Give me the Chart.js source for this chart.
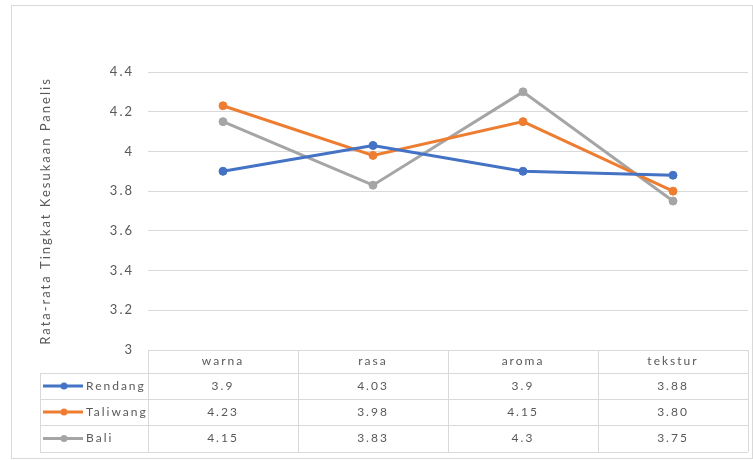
<!DOCTYPE html>
<html>
<head>
<meta charset="utf-8">
<script src="https://cdn.jsdelivr.net/npm/chart.js@4/dist/chart.umd.min.js"></script>
<style>
  html, body { margin: 0; padding: 0; background: #fff; }
  #wrap { width: 753px; height: 460px; }
</style>
</head>
<body>
<div id="wrap"><canvas id="myChart" width="753" height="460"></canvas></div>
<script>
// data (strings as printed in the data table)
const categories = ['warna', 'rasa', 'aroma', 'tekstur'];
const seriesNames = ['Rendang', 'Taliwang', 'Bali'];
const rendang = ['3.9', '4.03', '3.9', '3.88'];
const taliwang = ['4.23', '3.98', '4.15', '3.80'];
const bali = ['4.15', '3.83', '4.3', '3.75'];
const yTicks = [3, 3.2, 3.4, 3.6, 3.8, 4, 4.2, 4.4];
const yTitle = 'Rata-rata Tingkat Kesukaan Panelis';

const colors = ['#4472C4', '#ED7D31', '#A5A5A5'];
const allSeries = [rendang, taliwang, bali];
const textColor = '#595959';
const lineColor = '#d9d9d9';
const fontFamily = 'Lato, "Open Sans", sans-serif';

// frame around the whole chart, and the wide Excel-ish text spacing
const framePlugin = {
  id: 'frame',
  beforeDraw(chart) {
    const ctx = chart.ctx;
    ctx.letterSpacing = '2px';
    ctx.save();
    ctx.strokeStyle = lineColor;
    ctx.lineWidth = 1;
    ctx.strokeRect(11.5, 5.5, 741, 453);
    ctx.restore();
  }
};

// Excel style data table under the plot
const dataTablePlugin = {
  id: 'dataTable',
  afterDraw(chart) {
    const ctx = chart.ctx;
    const area = chart.chartArea;
    const x = chart.scales.x;
    const colW = (area.right - area.left) / categories.length;
    const headTop = area.bottom;
    const rowTops = [373, 399, 425, 452];
    const legendLeft = 40;

    ctx.save();
    ctx.strokeStyle = lineColor;
    ctx.lineWidth = 1;
    ctx.beginPath();
    ctx.moveTo(area.left, headTop + 0.5);
    ctx.lineTo(area.right, headTop + 0.5);
    rowTops.forEach(y => {
      ctx.moveTo(legendLeft, y + 0.5);
      ctx.lineTo(area.right, y + 0.5);
    });
    for (let i = 0; i <= categories.length; i++) {
      const cx = Math.round(area.left + i * colW) + 0.5;
      ctx.moveTo(cx, headTop);
      ctx.lineTo(cx, rowTops[rowTops.length - 1]);
    }
    ctx.moveTo(legendLeft + 0.5, rowTops[0]);
    ctx.lineTo(legendLeft + 0.5, rowTops[rowTops.length - 1]);
    ctx.stroke();

    ctx.font = '12px ' + fontFamily;
    ctx.fillStyle = textColor;
    ctx.textAlign = 'center';
    ctx.textBaseline = 'middle';
    categories.forEach((c, i) => {
      ctx.fillText(c, x.getPixelForValue(i), (headTop + rowTops[0]) / 2);
    });

    allSeries.forEach((vals, r) => {
      const cy = (rowTops[r] + rowTops[r + 1]) / 2;
      ctx.fillStyle = textColor;
      ctx.textAlign = 'center';
      vals.forEach((v, i) => {
        ctx.fillText(v, x.getPixelForValue(i), cy);
      });
      // legend key
      ctx.strokeStyle = colors[r];
      ctx.lineWidth = 3;
      ctx.beginPath();
      ctx.moveTo(43, cy);
      ctx.lineTo(83, cy);
      ctx.stroke();
      ctx.fillStyle = colors[r];
      ctx.beginPath();
      ctx.arc(64, cy, 3.5, 0, Math.PI * 2);
      ctx.fill();
      ctx.fillStyle = textColor;
      ctx.textAlign = 'left';
      ctx.fillText(seriesNames[r], 86, cy);
    });
    ctx.restore();
  }
};

const ctx = document.getElementById('myChart').getContext('2d');
const myChart = new Chart(ctx, {
  type: 'line',
  data: {
    labels: categories,
    datasets: allSeries.map((vals, i) => ({
      label: seriesNames[i],
      data: vals.map(Number),
      borderColor: colors[i],
      backgroundColor: colors[i],
      borderWidth: 3,
      pointRadius: 4,
      pointBorderWidth: 1,
      pointHoverRadius: 4,
      tension: 0,
      fill: false
    }))
  },
  options: {
    responsive: false,
    animation: false,
    layout: { padding: { left: 34, top: 72, right: 5, bottom: 110 } },
    plugins: {
      legend: { display: false },
      tooltip: { enabled: false }
    },
    scales: {
      x: { display: false, offset: true },
      y: {
        min: 3,
        max: 4.4,
        afterBuildTicks(scale) {
          scale.ticks = yTicks.map(v => ({ value: v }));
        },
        afterFit(scale) { scale.width = 114; },
        border: { display: false },
        grid: { color: lineColor, lineWidth: 1, drawTicks: false },
        ticks: {
          padding: 14,
          color: textColor,
          font: { family: fontFamily, size: 13 },
          callback: v => String(Math.round(v * 10) / 10)
        },
        title: {
          display: true,
          text: yTitle,
          color: textColor,
          font: { family: fontFamily, size: 13 }
        }
      }
    }
  },
  plugins: [framePlugin, dataTablePlugin]
});
</script>
</body>
</html>
